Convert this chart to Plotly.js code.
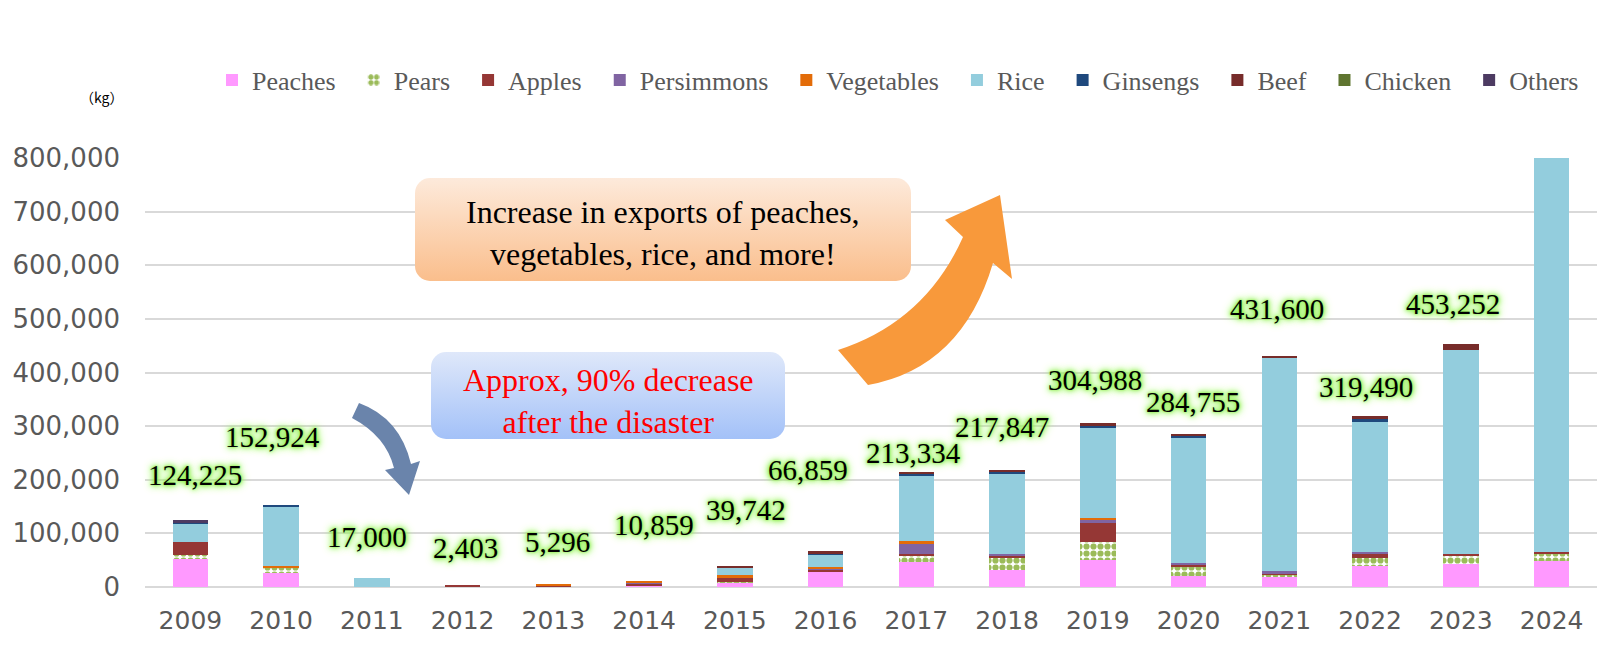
<!DOCTYPE html>
<html>
<head>
<meta charset="utf-8">
<script src="https://cdn.plot.ly/plotly-3.0.1.min.js"></script>
<style>
  html, body { margin: 0; padding: 0; background: #fff; }
  #chart { width: 1608px; height: 671px; }
</style>
</head>
<body>
<div id="chart"></div>
<script>
// ---------------- DATA ----------------
const years = ['2009','2010','2011','2012','2013','2014','2015','2016','2017','2018','2019','2020','2021','2022','2023','2024'];
const peaches    = [52000, 26000,     0,    0,    0, 2500,  7500, 28000,  46000,  31000,  50000,  20000,  20000,  40000,  43500,  49000];
const pears      = [ 8000, 11000,     0,    0,    0, 1000,  1000,     0,  11200,  24300,  34000,  18700,   2500,  15000,  15600,  14300];
const apples     = [23000,     0,     0, 2403, 2000, 2500,  8700,  4500,   5000,   2500,  35000,   3000,   2500,   8000,   1900,   2500];
const persimmons = [    0,     0,     0,    0,    0, 1000,     0,  1500,  18700,   3000,   6500,   3000,   4000,   3000,      0,      0];
const vegetables = [    0,  2000,     0,    0, 3296, 3859,  5000,  2500,   5000,      0,   2500,      0,      0,      0,      0,      0];
const rice       = [35000,109500, 17000,    0,    0,    0, 13700, 23500, 122434, 150847, 170000, 234055, 399600, 243490, 380252, 832283];
const ginsengs   = [ 2225,  4424,     0,    0,    0,    0,     0,  2000,   2500,   3700,   2488,   3000,      0,   3000,      0,      0];
const beef       = [    0,     0,     0,    0,    0,    0,  3842,  4859,   2500,   2500,   4500,   3000,   3000,   7000,  12000,      0];
const chicken    = [    0,     0,     0,    0,    0,    0,     0,     0,      0,      0,      0,      0,      0,      0,      0,      0];
const others     = [ 4000,     0,     0,    0,    0,    0,     0,     0,      0,      0,      0,      0,      0,      0,      0,      0];
const totals     = [124225, 152924, 17000, 2403, 5296, 10859, 39742, 66859, 213334, 217847, 304988, 284755, 431600, 319490, 453252, 898083];
const seriesNames = ['Peaches','Pears','Apples','Persimmons','Vegetables','Rice','Ginsengs','Beef','Chicken','Others'];
const yTicks = [0, 100000, 200000, 300000, 400000, 500000, 600000, 700000, 800000];

// ---------------- STYLE / LAYOUT ----------------
const seriesValues = [peaches, pears, apples, persimmons, vegetables, rice, ginsengs, beef, chicken, others];
const seriesColors = ['#FF99FF','#9BBB59','#953735','#8064A2','#E36C09','#93CDDD','#1F497D','#772C2A','#5F7530','#4D3B62'];

// label placement (data-unit height, pixel x-shift)
const labelPlace = [[209500,5],[280400,-9],[93100,-5],[73300,3],[84500,4],[116200,10],[144200,11],[218800,-18],
                    [250600,-3],[299100,-5],[386800,-3],[345700,4],[519200,-2],[373700,-4],[527000,-8],[860600,-11]];

const ML = 145, MR = 11, MT = 158, MB = 84, FW = 1608, FH = 671;
const PW = FW - ML - MR, PH = FH - MT - MB, BASE = FH - MB;
const fx = px => (px - ML) / PW;
const fy = py => (BASE - py) / PH;
const P = (px, py) => fx(px).toFixed(5) + ',' + fy(py).toFixed(5);
const PAD = '\u00A0\u00A0';

const traces = seriesNames.map((name, i) => {
  const t = {
    type: 'bar', name: name + PAD, x: years, y: seriesValues[i],
    marker: { color: seriesColors[i], line: { width: 0 } },
    hovertemplate: name + ': %{y:,}<extra></extra>'
  };
  if (name === 'Pears') {
    t.marker.pattern = { shape: '.', fgcolor: '#9BBB59', bgcolor: '#ffffff', size: 7, solidity: 0.62 };
  }
  return t;
});

const glow = '0 0 2px #8ef04c, 0 0 4px #8ef04c, 0 0 6px #8ef04c, 0 0 8px #a4f46c, 0 0 11px #c0f898';
const annotations = totals.map((v, i) => ({
  x: i, y: labelPlace[i][0], xref: 'x', yref: 'y',
  xshift: labelPlace[i][1],
  text: v.toLocaleString('en-US'), showarrow: false,
  xanchor: 'center', yanchor: 'middle',
  font: { family: 'Liberation Serif, Times New Roman, serif', size: 29, color: '#000', shadow: glow }
}));

annotations.push({
  xref: 'paper', yref: 'paper', x: fx(101), y: fy(97), text: '（kg）', showarrow: false,
  xanchor: 'center', yanchor: 'middle',
  font: { family: 'Noto Sans CJK JP, sans-serif', size: 14, color: '#000' }
});
annotations.push({
  xref: 'paper', yref: 'paper', x: fx(663), y: fy(233),
  text: 'Increase in exports of peaches,<br>vegetables, rice, and more!', showarrow: false,
  xanchor: 'center', yanchor: 'middle',
  font: { family: 'Liberation Serif, Times New Roman, serif', size: 32, color: '#000' }
});
annotations.push({
  xref: 'paper', yref: 'paper', x: fx(608), y: fy(401),
  text: 'Approx, 90% decrease<br>after the disaster', showarrow: false,
  xanchor: 'center', yanchor: 'middle',
  font: { family: 'Liberation Serif, Times New Roman, serif', size: 32, color: '#FF0000' }
});

function boxSvg(w, h, c1, c2) {
  const svg = '<svg xmlns="http://www.w3.org/2000/svg" width="' + w + '" height="' + h + '" viewBox="0 0 ' + w + ' ' + h + '" preserveAspectRatio="none">' +
    '<defs><linearGradient id="g" x1="0" y1="0" x2="0" y2="1"><stop offset="0" stop-color="' + c1 + '"/><stop offset="1" stop-color="' + c2 + '"/></linearGradient></defs>' +
    '<rect x="0" y="0" width="' + w + '" height="' + h + '" rx="15" ry="15" fill="url(#g)"/></svg>';
  return 'data:image/svg+xml;charset=utf-8,' + encodeURIComponent(svg);
}

const images = [
  { source: boxSvg(496, 103, '#FDEADB', '#FABE8C'), xref: 'paper', yref: 'paper',
    x: fx(415), y: fy(178), sizex: 496 / PW, sizey: 103 / PH, xanchor: 'left', yanchor: 'top',
    sizing: 'stretch', layer: 'above' },
  { source: boxSvg(354, 87, '#DFE8FA', '#A3C1F8'), xref: 'paper', yref: 'paper',
    x: fx(431), y: fy(352), sizex: 354 / PW, sizey: 87 / PH, xanchor: 'left', yanchor: 'top',
    sizing: 'stretch', layer: 'above' }
];

const shapes = [
  { type: 'path', xref: 'paper', yref: 'paper', layer: 'above', line: { width: 0 }, fillcolor: '#6A84AB',
    path: 'M' + P(359,403) + ' Q' + P(400,418) + ' ' + P(411,464) + ' L' + P(420,461) + ' L' + P(409,495) +
          ' L' + P(385,470) + ' L' + P(394,468) + ' Q' + P(386,436) + ' ' + P(352,418) + ' Z' },
  { type: 'path', xref: 'paper', yref: 'paper', layer: 'above', line: { width: 0 }, fillcolor: '#F8993B',
    path: 'M' + P(838,350) + ' Q' + P(925,322) + ' ' + P(963,237) + ' L' + P(945,220) + ' L' + P(1000,195) +
          ' L' + P(1012,279) + ' L' + P(993,263) + ' Q' + P(962,368) + ' ' + P(868,385) + ' Z' }
];

const layout = {
  width: FW, height: FH,
  margin: { l: ML, r: MR, t: MT, b: MB, pad: 0 },
  paper_bgcolor: '#fff', plot_bgcolor: '#fff',
  barmode: 'stack', bargap: 0.61,
  showlegend: true,
  legend: {
    orientation: 'h', x: 1, xanchor: 'right', y: fy(80), yanchor: 'middle',
    font: { family: 'Liberation Serif, Times New Roman, serif', size: 26, color: '#595959' },
    itemwidth: 30, traceorder: 'normal', bgcolor: 'rgba(0,0,0,0)'
  },
  xaxis: {
    type: 'category', range: [-0.5, 15.5], showgrid: false, showline: false, zeroline: false, ticks: '',
    tickfont: { family: 'DejaVu Sans, sans-serif', size: 25, color: '#595959' },
    ticklabelstandoff: 16
  },
  yaxis: {
    range: [0, 800000], tickvals: yTicks, tickformat: ',d',
    showgrid: true, gridcolor: '#D9D9D9', gridwidth: 1.5,
    zeroline: true, zerolinecolor: '#D9D9D9', zerolinewidth: 2,
    showline: false, ticks: '',
    tickfont: { family: 'DejaVu Sans, sans-serif', size: 26, color: '#595959' },
    ticklabelstandoff: 24
  },
  annotations: annotations, images: images, shapes: shapes
};

Plotly.newPlot('chart', traces, layout, { displayModeBar: false, responsive: false });
</script>
</body>
</html>
